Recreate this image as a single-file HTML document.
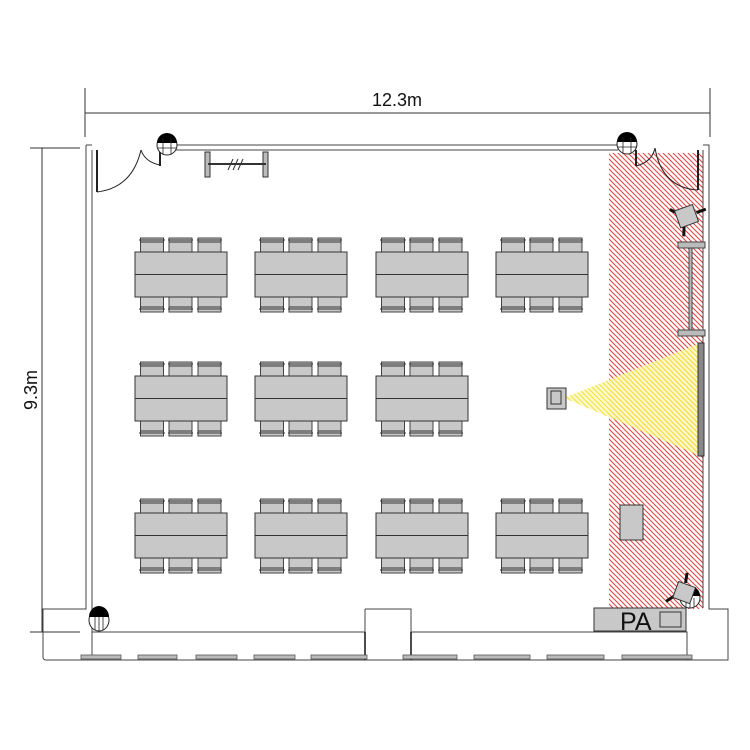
<!DOCTYPE html>
<html><head><meta charset="utf-8"><style>
html,body{margin:0;padding:0;background:#fff;}
svg{display:block;}
text{font-family:"Liberation Sans",sans-serif;}
</style></head><body>
<svg width="750" height="750" viewBox="0 0 750 750" xmlns="http://www.w3.org/2000/svg">
<defs>
<pattern id="hatch" patternUnits="userSpaceOnUse" x="0" y="0" width="5" height="5">
<path d="M-1,-1 L6,6 M-1,4 L1,6 M4,-1 L6,1" stroke="#e04848" stroke-width="1.1"/>
</pattern>
<pattern id="yhatch" patternUnits="userSpaceOnUse" x="0" y="0" width="5" height="5">
<path d="M-1,-1 L6,6 M-1,4 L1,6 M4,-1 L6,1" stroke="#f2e040" stroke-width="1.1"/>
</pattern>
<g id="tbl">
  <g fill="#c8c8c8" stroke="#444" stroke-width="1">
    <rect x="5.5" y="-14" width="23" height="14"/>
    <rect x="34" y="-14" width="23" height="14"/>
    <rect x="63" y="-14" width="23" height="14"/>
    <rect x="5.5" y="45" width="23" height="15"/>
    <rect x="34" y="45" width="23" height="15"/>
    <rect x="63" y="45" width="23" height="15"/>
  </g>
  <g stroke="#333" stroke-width="1" fill="none">
    <path d="M4,-12 h26 M33,-12 h25 M62,-12 h25 M5,-10 h24 M34,-10 h23 M63,-10 h23"/>
    <path d="M4,57 h26 M33,57 h25 M62,57 h25 M5,55 h24 M34,55 h23 M63,55 h23"/>
  </g>
  <rect x="0" y="0" width="92" height="45" fill="#c8c8c8" stroke="#333" stroke-width="1"/>
  <line x1="0" y1="22.5" x2="92" y2="22.5" stroke="#333"/>
</g>
</defs>

<rect x="609" y="153" width="94" height="456" fill="url(#hatch)"/>

<g stroke="#333" stroke-width="1" fill="none">
<line x1="85" y1="113" x2="710" y2="113"/>
<line x1="85" y1="88" x2="85" y2="137"/>
<line x1="710" y1="88" x2="710" y2="137"/>
<line x1="42" y1="148" x2="42" y2="632"/>
<line x1="30" y1="148" x2="80" y2="148"/>
<line x1="30" y1="632" x2="80" y2="632"/>
</g>
<text x="397" y="106" font-size="18" text-anchor="middle" fill="#111">12.3m</text>
<text x="0" y="0" font-size="18" text-anchor="middle" fill="#111" transform="translate(37,390) rotate(-90)">9.3m</text>

<g stroke="#444" stroke-width="1" fill="none">
<path d="M86,145 H92 M86,145 V609 H43 V657 Q43,660 46,660 H728 V609 H709 V145 H703"/>
<path d="M92,150 V655"/>
<path d="M703,150 V608"/>
<path d="M170,145 H620 M170,150 H618"/>
<path d="M92,632 H365 M411,632 H687 V660"/>
<path d="M365,609 H411 V660 M365,609 V660"/>
</g>
<g stroke="#111" stroke-width="1.5" fill="none">
<line x1="365" y1="632" x2="365" y2="660"/><line x1="411" y1="632" x2="411" y2="660"/>
</g>
<g fill="#bbb" stroke="#555" stroke-width="0.8">
<rect x="81" y="655" width="40" height="4"/>
<rect x="138" y="655" width="39" height="4"/>
<rect x="196" y="655" width="41" height="4"/>
<rect x="254" y="655" width="41" height="4"/>
<rect x="311" y="655" width="56" height="4"/>
<rect x="403" y="655" width="54" height="4"/>
<rect x="474" y="655" width="56" height="4"/>
<rect x="547" y="655" width="57" height="4"/>
<rect x="622" y="655" width="70" height="4"/>
</g>

<g stroke="#222" fill="none">
<line x1="97" y1="150" x2="97" y2="192" stroke-width="2"/>
<path d="M97,192 Q132,188 141,150" stroke-width="1"/>
<path d="M141,150 Q145,162 160,165" stroke-width="1"/>
<line x1="160" y1="148" x2="160" y2="166" stroke-width="2"/>
</g>
<g stroke="#222" fill="none">
<line x1="636" y1="150" x2="636" y2="166" stroke-width="2"/>
<path d="M636,166 Q652,162 655,148" stroke-width="1"/>
<path d="M655,148 Q662,188 698,190" stroke-width="1"/>
<line x1="698" y1="150" x2="698" y2="190" stroke-width="2"/>
</g>

<g stroke="#222" stroke-width="1" fill="#fff">
<circle cx="167" cy="145" r="10"/>
<circle cx="627" cy="144" r="10"/>
<ellipse cx="99" cy="620" rx="10" ry="11"/>
<circle cx="690" cy="598" r="10"/>
</g>
<g fill="#000">
<path d="M157,143 A10,10 0 0 1 177,143 Z"/>
<path d="M617,142 A10,10 0 0 1 637,142 Z"/>
<path d="M89,617 A10,11 0 0 1 109,617 Z"/>
<path d="M680,596 A10,10 0 0 1 700,596 Z"/>
</g>
<g stroke="#222" stroke-width="0.8">
<path d="M163,138 V155 M171,138 V155 M158,148 H176"/>
<path d="M623,137 V154 M631,137 V154 M618,147 H636"/>
<path d="M95,617 V630 M99,617 V631 M103,617 V630"/>
<path d="M686,598 V607 M690,598 V608 M694,598 V607"/>
</g>

<g stroke="#333" stroke-width="1">
<rect x="205" y="152" width="5" height="25" fill="#bbb"/>
<rect x="263" y="152" width="5" height="25" fill="#bbb"/>
<line x1="208" y1="164" x2="266" y2="164" stroke-width="2"/>
<path d="M228,170 L233,159 M233,170 L238,159 M238,170 L243,159"/>
</g>

<use href="#tbl" x="135" y="252"/>
<use href="#tbl" x="255" y="252"/>
<use href="#tbl" x="376" y="252"/>
<use href="#tbl" x="496" y="252"/>
<use href="#tbl" x="135" y="376"/>
<use href="#tbl" x="255" y="376"/>
<use href="#tbl" x="376" y="376"/>
<use href="#tbl" x="135" y="513"/>
<use href="#tbl" x="255" y="513"/>
<use href="#tbl" x="376" y="513"/>
<use href="#tbl" x="496" y="513"/>

<polygon points="564,398 698,344 698,455" fill="#fff6a0" fill-opacity="0.55"/>
<polygon points="564,398 698,344 698,455" fill="url(#yhatch)"/>
<rect x="547" y="388" width="19" height="21" fill="#c8c8c8" stroke="#333"/>
<rect x="551" y="391" width="10" height="13" fill="#c8c8c8" stroke="#333"/>
<rect x="698" y="343" width="6" height="113" fill="#888" stroke="#333"/>
<g fill="#bbb" stroke="#444">
<rect x="678" y="242" width="27" height="6"/>
<rect x="678" y="330" width="27" height="6"/>
<rect x="689" y="248" width="3" height="82"/>
</g>
<g transform="translate(687,216) rotate(-20)">
<line x1="-14" y1="-12" x2="-6" y2="-4" stroke="#111" stroke-width="3"/>
<line x1="10" y1="0" x2="20" y2="0" stroke="#111" stroke-width="3"/>
<line x1="-6" y1="8" x2="-10" y2="18" stroke="#111" stroke-width="3"/>
<rect x="-10" y="-9" width="19" height="18" fill="#c8c8c8" stroke="#333"/>
</g>
<g transform="translate(684,593) rotate(20)">
<line x1="-2" y1="-10" x2="-4" y2="-20" stroke="#111" stroke-width="3"/>
<line x1="-8" y1="6" x2="-14" y2="14" stroke="#111" stroke-width="3"/>
<rect x="-9" y="-9" width="18" height="17" fill="#c8c8c8" stroke="#333"/>
</g>
<rect x="620" y="505" width="23" height="35" fill="#c8c8c8" stroke="#333"/>
<rect x="594" y="608" width="92" height="23" fill="#c8c8c8" stroke="#333"/>
<text x="620" y="630" font-size="25" fill="#111">PA</text>
<rect x="660" y="612" width="21" height="15" fill="#c8c8c8" stroke="#333"/>
</svg>
</body></html>
